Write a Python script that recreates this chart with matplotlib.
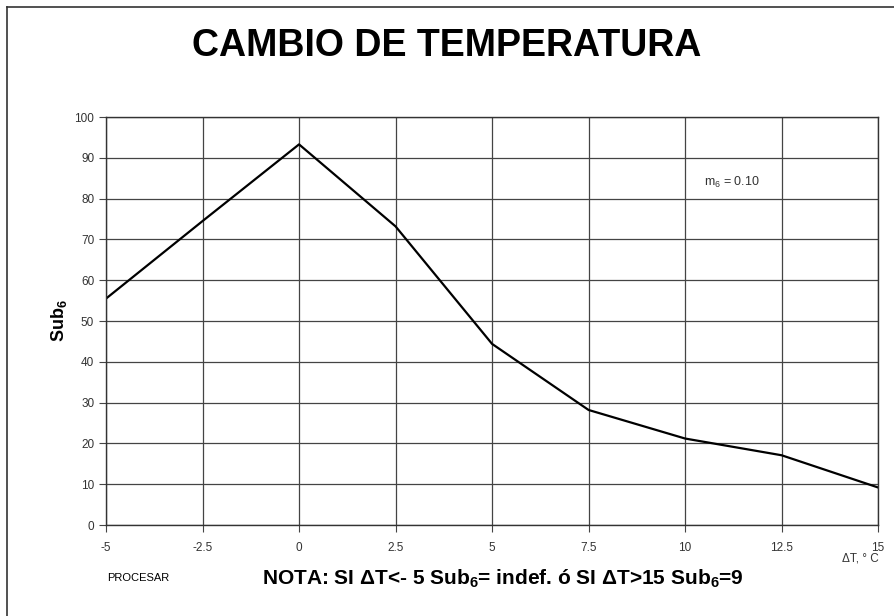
import matplotlib
matplotlib.use("Agg")
import matplotlib.pyplot as plt
from matplotlib.lines import Line2D

plt.rcParams['font.family'] = ['Liberation Sans', 'DejaVu Sans']
plt.rcParams['mathtext.fontset'] = 'custom'
plt.rcParams['mathtext.rm'] = 'Liberation Sans'
plt.rcParams['mathtext.bf'] = 'Liberation Sans:bold'

# data
delta_t = [-5, -2.5, 0, 2.5, 5, 7.5, 10, 12.5, 15]
sub6 = [55.5, 74.5, 93.3, 73.2, 44.4, 28.2, 21.2, 17.1, 9.2]

x_ticks = [-5, -2.5, 0, 2.5, 5, 7.5, 10, 12.5, 15]
x_labels = ['-5', '-2.5', '0', '2.5', '5', '7.5', '10', '12.5', '15']
y_ticks = list(range(0, 101, 10))

fig = plt.figure(figsize=(8.94, 6.16), dpi=100)
ax = fig.add_axes([0.1186, 0.1477, 0.8636, 0.6623])

ax.plot(delta_t, sub6, color='black', lw=1.6)

ax.set_xlim(-5, 15)
ax.set_ylim(0, 100)
ax.set_xticks(x_ticks)
ax.set_xticklabels(x_labels)
ax.set_yticks(y_ticks)
ax.grid(True, color='#444444', lw=0.9)
ax.tick_params(axis='both', labelsize=8.5, labelcolor='#333333',
               direction='out', length=5, width=0.8, color='#444444')
ax.tick_params(axis='x', pad=7)
for s in ax.spines.values():
    s.set_color('#333333')
    s.set_linewidth(1.0)

ax.set_ylabel(r'Sub$_\mathbf{6}$', fontsize=13, fontweight='bold', labelpad=4)

ax.text(0.775, 0.84, r'm$_6$ = 0.10', transform=ax.transAxes,
        fontsize=9, color='#333333', ha='left', va='center')

fig.text(0.5, 0.925, 'CAMBIO DE TEMPERATURA', fontsize=27, fontweight='bold',
         ha='center', va='center')
fig.text(0.983, 0.094, 'ΔT, ° C', fontsize=8.5, color='#333333',
         ha='right', va='center')
fig.text(0.12, 0.061, 'PROCESAR', fontsize=8, ha='left', va='center')
fig.text(0.562, 0.061,
         r'NOTA: SI ΔT<- 5 Sub$_\mathbf{6}$= indef. ó SI ΔT>15 Sub$_\mathbf{6}$=9',
         fontsize=15, fontweight='bold', ha='center', va='center')

# outer frame (top and left edges visible)
fig.add_artist(Line2D([0.008, 0.008], [0.0, 0.989], color='#333333', lw=1.2,
                      transform=fig.transFigure))
fig.add_artist(Line2D([0.008, 1.0], [0.989, 0.989], color='#333333', lw=1.2,
                      transform=fig.transFigure))

fig.savefig('out.png', dpi=100)
